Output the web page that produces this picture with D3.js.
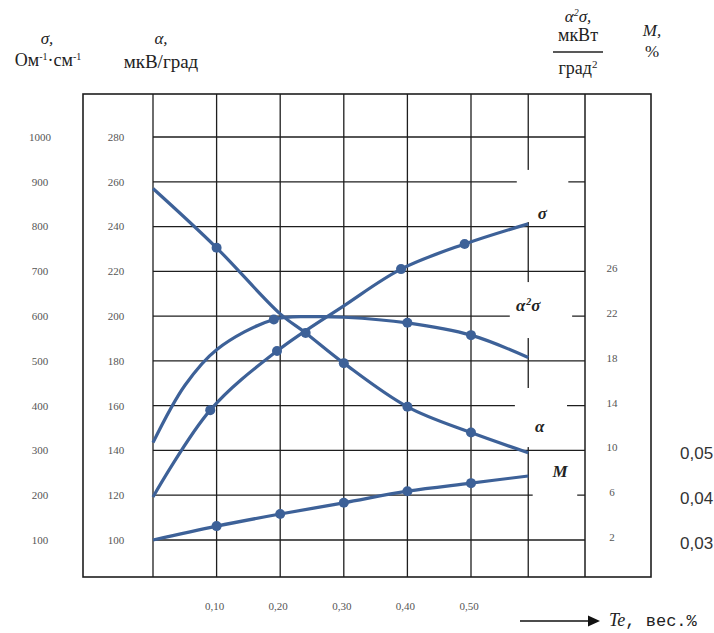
<!DOCTYPE html>
<html>
<head>
<meta charset="utf-8">
<script src="https://cdn.jsdelivr.net/npm/d3@7"></script>
<style>
  body { margin: 0; background: #fff; }
  svg { display: block; }
  text { font-family: "Liberation Serif", "Times New Roman", "DejaVu Serif", serif; }
  text.sans { font-family: "Liberation Sans", Arial, sans-serif; }
  tspan.mono { font-family: "Liberation Mono", "Courier New", monospace; }
</style>
</head>
<body>
<svg id="chart" width="714" height="633"></svg>
<script>
/* DATA */

// alpha, мкВ/град
const teAlpha = [0, 0.1, 0.2, 0.24, 0.3, 0.4, 0.5, 0.59];
const alphaVals = [257, 230.5, 201, 192.5, 179, 159.5, 148, 139];
const alphaMarks = [0.1, 0.24, 0.3, 0.4, 0.5];

// sigma, Ом-1·см-1
const teSigma = [0, 0.09, 0.195, 0.3, 0.39, 0.49, 0.59];
const sigmaVals = [196, 390, 522, 623, 705, 761, 806];
const sigmaMarks = [0.09, 0.195, 0.39, 0.49];

// alpha^2 sigma, мкВт/град2
const tePower = [0, 0.05, 0.1, 0.19, 0.25, 0.3, 0.4, 0.5, 0.59];
const powerVals = [10.7, 15.8, 19.0, 21.7, 21.95, 21.9, 21.4, 20.3, 18.3];
const powerMarks = [0.19, 0.4, 0.5];

// M, %
const teM = [0, 0.1, 0.2, 0.3, 0.4, 0.5, 0.59];
const mVals = [0.030, 0.0331, 0.0358, 0.0383, 0.0409, 0.0427, 0.0443];
const mMarks = [0.1, 0.2, 0.3, 0.4, 0.5];

// axes
const xGrid = [0, 0.1, 0.2, 0.3, 0.4, 0.5, 0.59];
const xTicks = [0.1, 0.2, 0.3, 0.4, 0.5];
const xTickLabels = ["0,10", "0,20", "0,30", "0,40", "0,50"];
const sigmaTicks = [100, 200, 300, 400, 500, 600, 700, 800, 900, 1000];
const alphaTicks = [100, 120, 140, 160, 180, 200, 220, 240, 260, 280];
const powerTicks = [2, 6, 10, 14, 18, 22, 26];
const mTicks = [0.03, 0.04, 0.05];
const mTickLabels = ["0,03", "0,04", "0,05"];

/* LAYOUT */
const outerLeft = 83, outerRight = 651;
const plotRight = 585;
const frameTop = 94, frameBottom = 577;
const blue = "#3d6198";
const ink = "#1e1e1e";

const svg = d3.select("#chart");

const x = d3.scaleLinear().domain([0, 0.5]).range([153, 471]);
const yA = d3.scaleLinear().domain([100, 280]).range([540, 137]);
const yS = d3.scaleLinear().domain([100, 1000]).range([540, 137]);
const yP = d3.scaleLinear().domain([2, 26]).range([540, yA(220)]);
const yM = d3.scaleLinear().domain([0.03, 0.05]).range([540, yA(140)]);

const plotLeft = x(0);

// frame
const frame = svg.append("g").attr("stroke", ink).attr("fill", "none");
frame.append("rect")
  .attr("x", outerLeft).attr("y", frameTop)
  .attr("width", outerRight - outerLeft).attr("height", frameBottom - frameTop)
  .attr("stroke-width", 1.6);
frame.append("line")
  .attr("x1", plotRight).attr("x2", plotRight)
  .attr("y1", frameTop).attr("y2", frameBottom)
  .attr("stroke-width", 1.5);

// grid
const grid = svg.append("g").attr("stroke", ink).attr("stroke-width", 1.3);
grid.selectAll(".v").data(xGrid).enter().append("line")
  .attr("x1", d => x(d)).attr("x2", d => x(d))
  .attr("y1", frameTop).attr("y2", frameBottom);
grid.selectAll(".h").data(alphaTicks).enter().append("line")
  .attr("x1", plotLeft).attr("x2", plotRight)
  .attr("y1", d => yA(d)).attr("y2", d => yA(d));

// blanked areas round the curve names (as in the scan): [te0, te1, alpha0, alpha1]
const gaps = [
  [0.572, 0.653, 265.3, 242.0],
  [0.561, 0.659, 215.2, 190.2],
  [0.569, 0.651, 167.9, 141.5],
  [0.597, 0.667, 135.7, 103.6]
];
svg.append("g").selectAll("rect").data(gaps).enter().append("rect")
  .attr("x", d => x(d[0])).attr("width", d => x(d[1]) - x(d[0]))
  .attr("y", d => yA(d[2])).attr("height", d => yA(d[3]) - yA(d[2]))
  .attr("fill", "#fff");

// axis labels
const lab = svg.append("g").attr("fill", "#555")
  .attr("font-size", 11).attr("text-anchor", "middle");
lab.selectAll(".s").data(sigmaTicks).enter().append("text")
  .attr("x", 40).attr("y", d => yS(d)).attr("dy", "0.35em").text(d => d);
lab.selectAll(".a").data(alphaTicks).enter().append("text")
  .attr("x", 116).attr("y", d => yA(d)).attr("dy", "0.35em").text(d => d);
lab.selectAll(".p").data(powerTicks).enter().append("text")
  .attr("x", 612).attr("y", d => yP(d) - 3).attr("dy", "0.35em").text(d => d);
lab.selectAll(".x").data(xTicks).enter().append("text")
  .attr("x", d => x(d) - 2).attr("y", 606).attr("dy", "0.35em")
  .text((d, i) => xTickLabels[i]);

svg.append("g").attr("font-size", 17).attr("fill", "#333")
  .selectAll("text").data(mTicks).enter().append("text")
  .attr("class", "sans")
  .attr("x", 680).attr("y", d => yM(d) + 3).attr("dy", "0.35em")
  .text((d, i) => mTickLabels[i]);

// curves
function drawCurve(te, vals, marks, y) {
  const pts = te.map((t, i) => [t, vals[i]]);
  svg.append("path")
    .datum(pts)
    .attr("fill", "none")
    .attr("stroke", blue)
    .attr("stroke-width", 3.2)
    .attr("d", d3.line().curve(d3.curveCatmullRom.alpha(0.5))
      .x(d => x(d[0])).y(d => y(d[1])));
  svg.append("g").selectAll("circle")
    .data(pts.filter(d => marks.includes(d[0])))
    .enter().append("circle")
    .attr("cx", d => x(d[0])).attr("cy", d => y(d[1]))
    .attr("r", 5).attr("fill", blue);
}
drawCurve(teAlpha, alphaVals, alphaMarks, yA);
drawCurve(teSigma, sigmaVals, sigmaMarks, yS);
drawCurve(tePower, powerVals, powerMarks, yP);
drawCurve(teM, mVals, mMarks, yM);

// curve names
const names = svg.append("g").attr("font-size", 17)
  .attr("font-weight", "bold").attr("font-style", "italic").attr("fill", "#222")
  .attr("text-anchor", "middle");
names.append("text").attr("x", x(0.612)).attr("y", yA(246)).attr("dy", "0.35em").text("σ");
names.append("text").attr("x", x(0.59)).attr("y", yA(205)).attr("dy", "0.35em")
  .html('α<tspan dx="1" dy="-6" font-size="10">2</tspan><tspan dy="6">σ</tspan>');
names.append("text").attr("x", x(0.608)).attr("y", yA(151)).attr("dy", "0.35em").text("α");
names.append("text").attr("x", x(0.64)).attr("y", yA(131)).attr("dy", "0.35em").text("M");

// headers
const head = svg.append("g").attr("fill", "#222")
  .attr("font-size", 17).attr("text-anchor", "middle");
head.append("text").attr("x", 47).attr("y", 44).attr("font-style", "italic").text("σ,");
head.append("text").attr("x", 48).attr("y", 66).attr("font-size", 18)
  .html('Ом<tspan dy="-6" font-size="10">-1</tspan><tspan dy="6">·см</tspan><tspan dy="-6" font-size="10">-1</tspan>');
head.append("text").attr("x", 161).attr("y", 44).attr("font-style", "italic").text("α,");
head.append("text").attr("x", 161).attr("y", 68).attr("font-size", 19).text("мкВ/град");
head.append("text").attr("x", 578).attr("y", 22).attr("font-style", "italic")
  .html('α<tspan dy="-6" font-size="10">2</tspan><tspan dy="6">σ,</tspan>');
head.append("text").attr("x", 578).attr("y", 41).attr("font-size", 18).text("мкВт");
head.append("line").attr("x1", 553).attr("x2", 603).attr("y1", 52).attr("y2", 52)
  .attr("stroke", "#222").attr("stroke-width", 1.3);
head.append("text").attr("x", 578).attr("y", 74).attr("font-size", 18)
  .html('град<tspan dy="-6" font-size="11">2</tspan>');
head.append("text").attr("x", 652).attr("y", 36).attr("font-style", "italic").text("M,");
head.append("text").attr("x", 652).attr("y", 57).text("%");

// x axis title with arrow
svg.append("line").attr("x1", 520).attr("x2", 590).attr("y1", 621).attr("y2", 621)
  .attr("stroke", "#111").attr("stroke-width", 1.5);
svg.append("path").attr("d", d3.line()([[588, 615.5], [600, 621], [588, 626.5]]))
  .attr("fill", "#111");
svg.append("text").attr("x", 609).attr("y", 626).attr("font-size", 18).attr("fill", "#222")
  .html('<tspan font-style="italic">Te</tspan><tspan class="mono" font-size="17">, вес.%</tspan>');
</script>
</body>
</html>
